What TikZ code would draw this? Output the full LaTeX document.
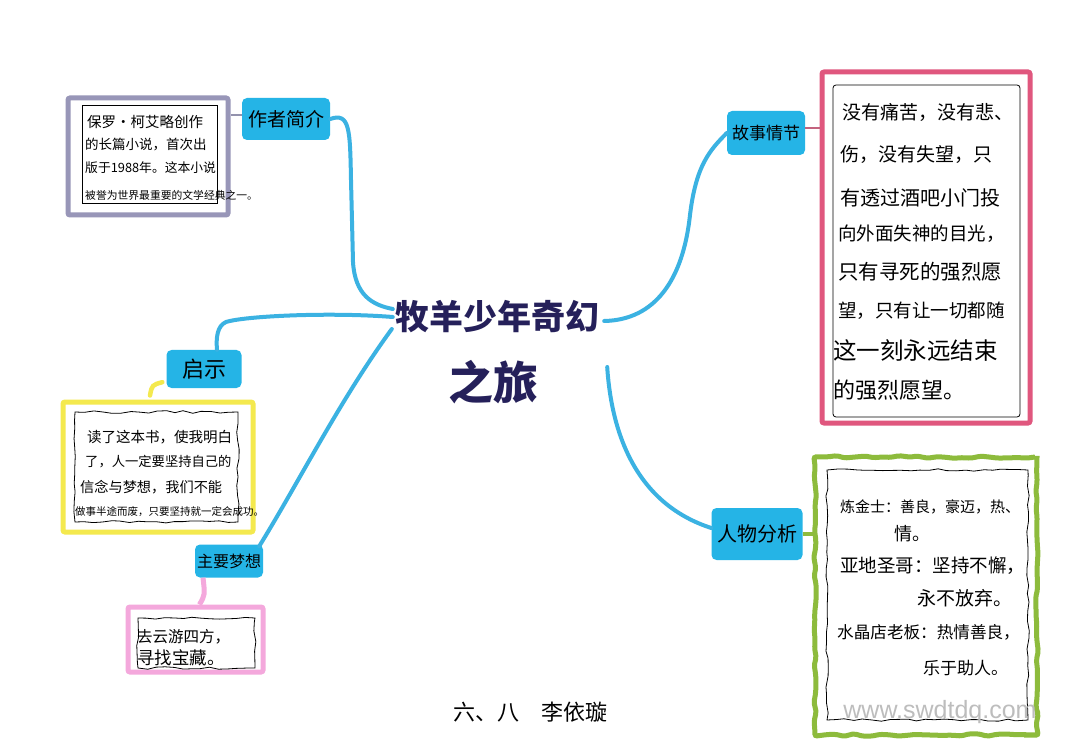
\documentclass[tikz,border=0pt]{standalone}
\usepackage{fontspec}
\setmainfont{Noto Sans CJK SC}
\newfontfamily\cjk{Noto Sans CJK SC}
\newfontfamily\wmfont{Liberation Sans}
\usetikzlibrary{calc,decorations.pathmorphing}
\definecolor{cyanlab}{HTML}{25B4E6}
\definecolor{cyanline}{HTML}{3BB2E2}
\definecolor{lavframe}{HTML}{9896B8}
\definecolor{pinkframe}{HTML}{E0577E}
\definecolor{yellowframe}{HTML}{F4E94E}
\definecolor{greenframe}{HTML}{8DBB3C}
\definecolor{dreampink}{HTML}{F4A8DC}
\definecolor{navy}{HTML}{25205A}
\definecolor{wmgray}{HTML}{BDBDBD}
\begin{document}
\begin{tikzpicture}[x=1pt,y=-1pt,
  lab/.style={fill=cyanlab, rounded corners=5pt, inner sep=0pt, text=black},
  conn/.style={draw=cyanline, line width=4pt, line cap=round},
  frame/.style={line width=5pt, inner sep=0pt, rounded corners=2pt},
  inbox/.style={draw=black, line width=0.8pt, inner sep=0pt},
  wavy/.style={decorate, decoration={random steps, segment length=9pt, amplitude=1.3pt}},
  hand/.style={anchor=west, inner sep=0pt, text=black},
  fs/.style={font=\cjk\fontsize{#1}{#1}\selectfont}]
\pgfmathsetseed{7}
\useasboundingbox[fill=white] (0,0) rectangle (1080,754);

% ---- title
\node[inner sep=0pt, text=navy, font=\cjk\bfseries\fontsize{34}{34}\selectfont] (title1) at (497,317) {牧羊少年奇幻};
\node[inner sep=0pt, text=navy, font=\cjk\bfseries\fontsize{45}{45}\selectfont] (title2) at (493,382) {之旅};

% ---- author
\node[frame, draw=lavframe, minimum width=160pt, minimum height=117pt] (authorouter) at (148,156.5) {};
\node[inbox, minimum width=135pt, minimum height=98pt] (authorinner) at (149.5,154) {};
\node[hand, fs=14.5] (a1) at (87,122) {保罗·柯艾略创作};
\node[hand, fs=13.5] (a2) at (85,145) {的长篇小说，首次出};
\node[hand, fs=12.8] (a3) at (85,168) {版于1988年。这本小说};
\node[hand, fs=10.8] (a4) at (85,195) {被誉为世界最重要的文学经典之一。};
\node[lab, minimum width=88pt, minimum height=42pt, fs=19] (authorlab) at (286,119) {作者简介};

% ---- story
\node[frame, draw=pinkframe, minimum width=208pt, minimum height=351pt] (storyouter) at (926,247.5) {};
\node[inbox, rounded corners=3pt, minimum width=187pt, minimum height=332pt] (storyinner) at (926.5,251) {};
\node[hand, fs=19] (s1) at (842,112) {没有痛苦，没有悲、};
\node[hand, fs=19] (s2) at (840,155) {伤，没有失望，只};
\node[hand, fs=20] (s3) at (840,198) {有透过酒吧小门投};
\node[hand, fs=18.5] (s4) at (838,234) {向外面失神的目光，};
\node[hand, fs=20.5] (s5) at (838,272) {只有寻死的强烈愿};
\node[hand, fs=18.5] (s6) at (838,311) {望，只有让一切都随};
\node[hand, fs=23.5] (s7) at (833,350) {这一刻永远结束};
\node[hand, fs=22] (s8) at (833,390) {的强烈愿望。};
\node[lab, minimum width=78pt, minimum height=44pt, fs=17] (storylab) at (766,133) {故事情节};

% ---- qishi
\node[lab, minimum width=75pt, minimum height=38pt, fs=22] (qishilab) at (204,369) {启示};
\node[frame, draw=yellowframe, minimum width=190pt, minimum height=130pt] (yellowouter) at (158,467) {};
\node[inbox, wavy, minimum width=163pt, minimum height=110pt] (yellowinner) at (156.5,467) {};
\node[hand, fs=14.5] (y1) at (87,437) {读了这本书，使我明白};
\node[hand, fs=13.3] (y2) at (85,462) {了，人一定要坚持自己的};
\node[hand, fs=14.2] (y3) at (80,487) {信念与梦想，我们不能};
\node[hand, fs=10.5] (y4) at (75,512) {做事半途而废，只要坚持就一定会成功。};

% ---- dream
\node[lab, minimum width=68pt, minimum height=33pt, fs=16] (dreamlab) at (229,561) {主要梦想};
\node[frame, draw=dreampink, minimum width=135pt, minimum height=65pt] (dreamouter) at (195.5,639.5) {};
\node[inbox, wavy, minimum width=117pt, minimum height=50pt] (dreaminner) at (196.5,643) {};
\node[hand, fs=15.5] (d1) at (137,637) {去云游四方，};
\node[hand, fs=17.5] (d2) at (137,658) {寻找宝藏。};

% ---- people
\node[lab, minimum width=91pt, minimum height=52pt, fs=20] (peoplelab) at (757,534) {人物分析};
\node[frame, draw=greenframe, wavy, minimum width=222pt, minimum height=278pt] (greenouter) at (926,596) {};
\node[inbox, wavy, minimum width=201pt, minimum height=250pt] (greeninner) at (927.5,595) {};
\node[hand, fs=15] (g1) at (840,507) {炼金士：善良，豪迈，热、};
\node[hand, fs=18] (g2) at (894,534) {情。};
\node[hand, fs=18.5] (g3) at (840,566) {亚地圣哥：坚持不懈，};
\node[hand, fs=19] (g4) at (917,598) {永不放弃。};
\node[hand, fs=16.6] (g5) at (837,632) {水晶店老板：热情善良，};
\node[hand, fs=17] (g6) at (923,668) {乐于助人。};

% ---- footer
\node[inner sep=0pt, fs=22] (sig) at (530,712) {六、八　李依璇};
\node[inner sep=0pt, text=wmgray, font=\wmfont\fontsize{25}{25}\selectfont] (wm) at (940,712) {www.swdtdq.com};

% ---- main connectors
\coordinate (tL1) at ($(title1.west)+(-2,-8)$);
\coordinate (tL2) at ($(title1.west)+(-2,0)$);
\coordinate (tL3) at ($(title1.west)+(-3,12)$);
\coordinate (tR1) at ($(title1.east)+(5,4)$);
\coordinate (tR2) at ($(title1.east)+(8,50)$);
\draw[conn] (authorlab.east) .. controls (350,112) and (350,130) .. (351,180) -- (353,262) .. controls (355,295) and (372,305) .. (tL1);
\draw[conn] (tL2) .. controls (330,312) and (245,316) .. (226,322) .. controls (217,326) and (216,338) .. ($(qishilab.north)+(13,0)$);
\draw[conn] (tL3) .. controls (340,400) and (300,480) .. ($(dreamlab.north east)+(-4,2)$);
\draw[conn] (tR1) .. controls (655,320) and (683,280) .. (690,215) .. controls (696,165) and (710,150) .. (storylab.west);
\draw[conn] (tR2) .. controls (612,440) and (640,505) .. ($(peoplelab.west)+(0,-6)$);

% ---- small connectors
\draw[lavframe!80!gray, line width=2.5pt] (authorlab.west |- 0,115) -- (authorouter.east |- 0,115);
\draw[pinkframe!70!gray, line width=2.5pt] (storylab.east |- 0,128) -- (storyouter.west |- 0,128);
\draw[greenframe, line width=3.5pt] (peoplelab.east) -- (greenouter.west |- peoplelab.east);
\draw[yellowframe, line width=4.5pt, line cap=round] ($(qishilab.south west)+(-4,-6)$) .. controls (152,385) .. ($(yellowouter.north)+(-8,-4)$);
\draw[dreampink, line width=5pt] ($(dreamlab.south)+(-26,0)$) .. controls (205,595) .. ($(dreamouter.north)+(4,0)$);
\end{tikzpicture}
\end{document}
